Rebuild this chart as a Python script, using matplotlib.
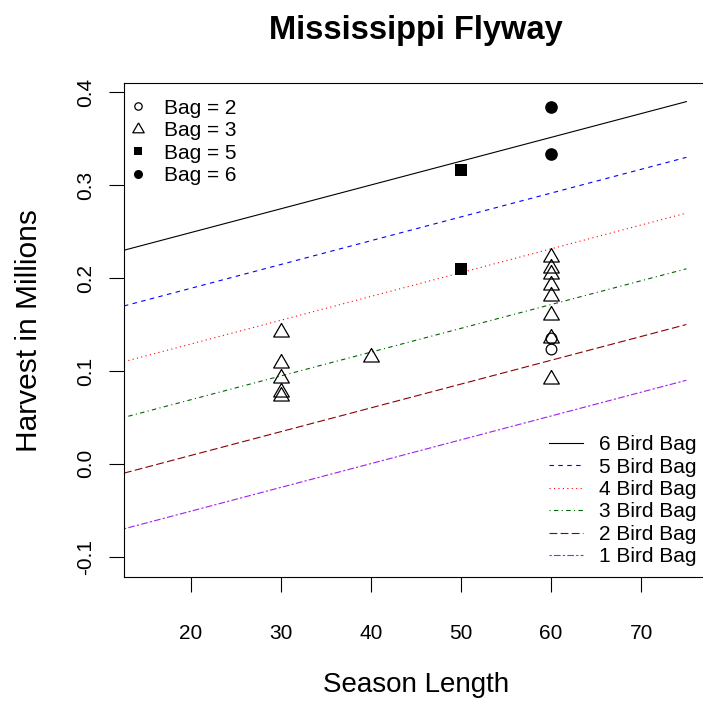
import matplotlib
matplotlib.use("Agg")
import matplotlib.pyplot as plt
from matplotlib.lines import Line2D

plt.rcParams['font.family'] = ['Liberation Sans', 'DejaVu Sans']

# fitted lines (season length -> harvest), one per bag limit
season_fit = [12.6, 75.0]
fit_6 = [0.230, 0.390]
fit_5 = [0.170, 0.330]
fit_4 = [0.110, 0.270]
fit_3 = [0.050, 0.210]
fit_2 = [-0.010, 0.150]
fit_1 = [-0.070, 0.090]

# observed harvests
bag2_season = [60, 60]
bag2_harvest = [0.136, 0.124]
bag3_season = [30, 30, 30, 30, 30, 40, 60, 60, 60, 60, 60, 60, 60, 60]
bag3_harvest = [0.142, 0.109, 0.092, 0.077, 0.073, 0.115,
                0.223, 0.211, 0.204, 0.193, 0.181, 0.160, 0.136, 0.091]
bag5_season = [50, 50]
bag5_harvest = [0.316, 0.210]
bag6_season = [60, 60]
bag6_harvest = [0.384, 0.334]

x_ticks = [20, 30, 40, 50, 60, 70]
y_ticks = [-0.1, 0.0, 0.1, 0.2, 0.3, 0.4]

# open equilateral triangle like R's pch 2
tri = [(0, 1), (-0.866, -0.5), (0.866, -0.5), (0, 1)]

fig = plt.figure(figsize=(7.03, 7.02), dpi=100)
ax = fig.add_axes([0.1764, 0.1776, 0.8307, 0.7037])

lw = 0.8
fits = [
    (fit_6, 'black', '-', '6 Bird Bag'),
    (fit_5, 'blue', (0, (4, 4)), '5 Bird Bag'),
    (fit_4, 'red', (0, (1, 3)), '4 Bird Bag'),
    (fit_3, '#006400', (0, (1, 3, 4, 3)), '3 Bird Bag'),
    (fit_2, '#8B0000', (0, (7, 3)), '2 Bird Bag'),
    (fit_1, '#A020F0', (0, (2, 2, 6, 2)), '1 Bird Bag'),
]
line_handles = []
for vals, col, ls, lab in fits:
    h, = ax.plot(season_fit, vals, color=col, linestyle=ls, linewidth=lw, label=lab)
    line_handles.append(h)

ax.plot(bag2_season, bag2_harvest, linestyle='none', marker='o', ms=7.7,
        mfc='none', mec='black', mew=0.9)
ax.plot(bag3_season, bag3_harvest, linestyle='none', marker=tri, ms=13,
        mfc='none', mec='black', mew=0.9)
ax.plot(bag5_season, bag5_harvest, linestyle='none', marker='s', ms=8.4,
        mfc='black', mec='black', mew=0)
ax.plot(bag6_season, bag6_harvest, linestyle='none', marker='o', ms=9.1,
        mfc='black', mec='black', mew=0)

ax.set_xlim(12.6, 77.4)
ax.set_ylim(-0.1222, 0.4097)
ax.set_xticks(x_ticks)
ax.set_yticks(y_ticks)
ax.set_yticklabels(['-0.1', '0.0', '0.1', '0.2', '0.3', '0.4'])
ax.tick_params(length=10.5, width=0.8, labelsize=15, direction='out')
ax.tick_params(axis='x', pad=23)
ax.tick_params(axis='y', pad=10)
plt.setp(ax.get_yticklabels(), rotation=90, va='center')
for s in ax.spines.values():
    s.set_linewidth(0.8)

ax.set_xlabel('Season Length', fontsize=20, labelpad=21)
ax.set_ylabel('Harvest in Millions', fontsize=21.5, labelpad=24)
fig.text(0.5918, 0.957, 'Mississippi Flyway', fontsize=23.5, fontweight='bold',
         ha='center', va='center')

pt_handles = [
    Line2D([], [], linestyle='none', marker='o', ms=5.3, mfc='none', mec='black', mew=0.9),
    Line2D([], [], linestyle='none', marker=tri, ms=9.5, mfc='none', mec='black', mew=0.9),
    Line2D([], [], linestyle='none', marker='s', ms=6, mfc='black', mec='black', mew=0),
    Line2D([], [], linestyle='none', marker='o', ms=6.5, mfc='black', mec='black', mew=0),
]
leg1 = ax.legend(pt_handles, ['Bag = 2', 'Bag = 3', 'Bag = 5', 'Bag = 6'],
                 loc='upper left', bbox_to_anchor=(0, 0.977), frameon=False,
                 fontsize=15, numpoints=1, handlelength=1.0, handletextpad=0.72,
                 borderpad=0.19, borderaxespad=0, labelspacing=0.165)
ax.add_artist(leg1)
ax.legend(handles=line_handles, loc='lower right', bbox_to_anchor=(1, 0),
          frameon=False, fontsize=15, handlelength=1.6, handletextpad=0.8,
          borderpad=0.53, borderaxespad=0, labelspacing=0.165)

fig.savefig('out.png', dpi=100)
